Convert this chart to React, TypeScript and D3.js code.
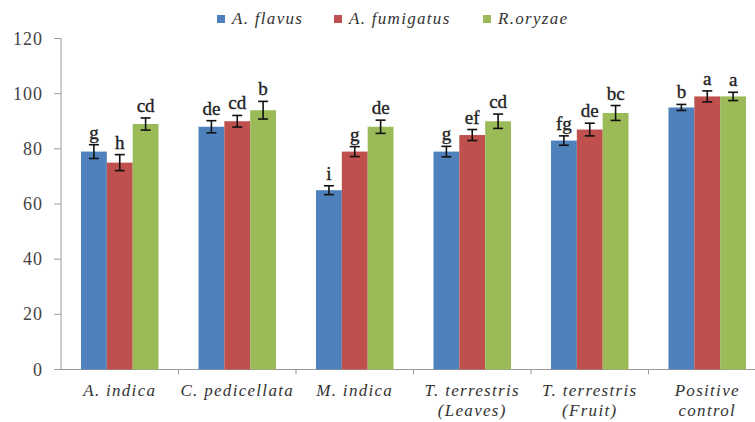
import React from "react";
import * as d3 from "d3";

const categories = [
  "A. indica",
  "C. pedicellata",
  "M. indica",
  "T. terrestris\n(Leaves)",
  "T. terrestris\n(Fruit)",
  "Positive\ncontrol",
];
const seriesNames = ["A. flavus", "A. fumigatus", "R.oryzae"];
const seriesColors = ["#4F81BD", "#C0504D", "#9BBB59"];

const flavus = [79, 88, 65, 79, 83, 95];
const fumigatus = [75, 90, 79, 85, 87, 99];
const oryzae = [89, 94, 88, 90, 93, 99];

const flavusErr = [2.5, 2.2, 1.6, 1.9, 1.7, 1.1];
const fumigatusErr = [2.9, 2.1, 1.8, 2.0, 2.3, 2.0];
const oryzaeErr = [2.2, 3.2, 2.4, 2.6, 2.7, 1.5];

const flavusLetters = ["g", "de", "i", "g", "fg", "b"];
const fumigatusLetters = ["h", "cd", "g", "ef", "de", "a"];
const oryzaeLetters = ["cd", "b", "de", "cd", "bc", "a"];

const yTicks = [0, 20, 40, 60, 80, 100, 120];

const W = 755;
const H = 422;
const axisX = 61;
const y0 = 369.5;
const yTop = 38.5;
const step = 117.5;

const SERIF = "Liberation Serif";

export default function App() {
  const values = [flavus, fumigatus, oryzae];
  const errs = [flavusErr, fumigatusErr, oryzaeErr];
  const letters = [flavusLetters, fumigatusLetters, oryzaeLetters];

  const y = d3.scaleLinear().domain([0, 120]).range([y0, yTop]);
  const x = d3
    .scaleBand<string>()
    .domain(categories)
    .range([axisX, axisX + step * categories.length])
    .paddingInner(0.34)
    .paddingOuter(0.17);
  const xs = d3
    .scaleBand<number>()
    .domain([0, 1, 2])
    .range([0, x.bandwidth()]);

  const legendX = [217, 334, 483];

  return (
    <svg
      width={W}
      height={H}
      fontFamily={SERIF}
      style={{ position: "absolute", left: 0, top: 0, background: "#fff" }}
    >
      <rect x={0} y={0} width={W} height={H} fill="#fff" />
      {/* legend */}
      {seriesNames.map((s, i) => (
        <g key={s} transform={`translate(${legendX[i]},0)`}>
          <rect x={0} y={15} width={8} height={8} fill={seriesColors[i]} />
          <text x={15} y={24} fontFamily={SERIF} fontStyle="italic" fontSize={17} fill="#333" letterSpacing={1.3}>
            {s}
          </text>
        </g>
      ))}

      {/* y axis */}
      <line x1={axisX} x2={axisX} y1={yTop} y2={y0} stroke="#9a9a9a" strokeWidth={1} />
      {yTicks.map((t) => (
        <g key={t}>
          <line x1={axisX - 7} x2={axisX} y1={y(t)} y2={y(t)} stroke="#9a9a9a" />
          <text
            x={43}
            y={y(t) + 6}
            textAnchor="end"
            fontFamily={SERIF}
            fontSize={18}
            fill="#444"
            letterSpacing={1}
          >
            {t}
          </text>
        </g>
      ))}

      {/* x axis */}
      <line x1={axisX} x2={W} y1={y0} y2={y0} stroke="#9a9a9a" strokeWidth={1} />
      {categories.map((c, i) => (
        <line
          key={c + "t"}
          x1={axisX + step * (i + 1)}
          x2={axisX + step * (i + 1)}
          y1={y0}
          y2={y0 + 5}
          stroke="#9a9a9a"
        />
      ))}

      {/* bars */}
      {categories.map((c, ci) => (
        <g key={c} transform={`translate(${x(c)},0)`}>
          {values.map((vals, si) => {
            const bx = xs(si)!;
            const bw = xs.bandwidth();
            const v = vals[ci];
            const e = errs[si][ci];
            const cx = bx + bw / 2;
            const top = y(v + e);
            const bot = y(v - e);
            return (
              <g key={si}>
                <rect
                  x={bx}
                  y={y(v)}
                  width={bw}
                  height={y0 - y(v)}
                  fill={seriesColors[si]}
                />
                <line x1={cx} x2={cx} y1={top} y2={bot} stroke="#111" strokeWidth={1.6} />
                <line x1={cx - 5} x2={cx + 5} y1={top} y2={top} stroke="#111" strokeWidth={1.6} />
                <line x1={cx - 5} x2={cx + 5} y1={bot} y2={bot} stroke="#111" strokeWidth={1.6} />
                <text
                  x={cx}
                  y={top - 6}
                  textAnchor="middle"
                  fontFamily={SERIF}
                  fontSize={19}
                  fill="#222"
                  stroke="#222"
                  strokeWidth={0.35}
                >
                  {letters[si][ci]}
                </text>
              </g>
            );
          })}
        </g>
      ))}

      {/* category labels */}
      {categories.map((c) => {
        const cx = x(c)! + x.bandwidth() / 2;
        const lines = c.split("\n");
        return (
          <g key={c + "l"}>
            {lines.map((l, li) => (
              <text
                key={li}
                x={cx}
                y={396 + li * 20}
                textAnchor="middle"
                fontFamily={SERIF}
                fontStyle="italic"
                fontSize={17}
                fill="#333"
                letterSpacing={1.3}
              >
                {l}
              </text>
            ))}
          </g>
        );
      })}
    </svg>
  );
}
